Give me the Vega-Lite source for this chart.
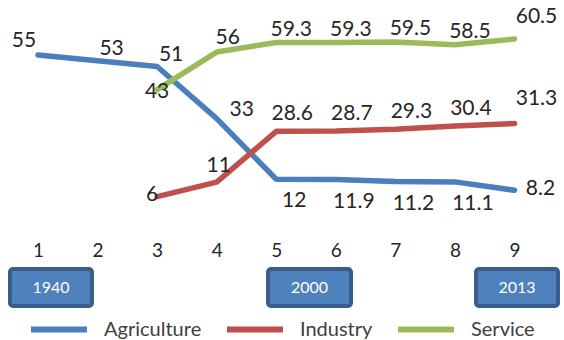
{
  "$schema": "https://vega.github.io/schema/vega-lite/v6.json",
  "padding": 0,
  "spacing": 7,
  "config": {
    "view": {"stroke": null},
    "font": "Lato",
    "text": {"font": "Lato", "fontSize": 21, "color": "#262626", "align": "center", "baseline": "middle"}
  },
  "datasets": {
    "shares": [
      {"x": 1, "sector": "Agriculture", "v": 55},
      {"x": 2, "sector": "Agriculture", "v": 53},
      {"x": 3, "sector": "Agriculture", "v": 51},
      {"x": 4, "sector": "Agriculture", "v": 33},
      {"x": 5, "sector": "Agriculture", "v": 12},
      {"x": 6, "sector": "Agriculture", "v": 11.9},
      {"x": 7, "sector": "Agriculture", "v": 11.2},
      {"x": 8, "sector": "Agriculture", "v": 11.1},
      {"x": 9, "sector": "Agriculture", "v": 8.2},
      {"x": 3, "sector": "Industry", "v": 6},
      {"x": 4, "sector": "Industry", "v": 11},
      {"x": 5, "sector": "Industry", "v": 28.6},
      {"x": 6, "sector": "Industry", "v": 28.7},
      {"x": 7, "sector": "Industry", "v": 29.3},
      {"x": 8, "sector": "Industry", "v": 30.4},
      {"x": 9, "sector": "Industry", "v": 31.3},
      {"x": 3, "sector": "Service", "v": 43},
      {"x": 4, "sector": "Service", "v": 56},
      {"x": 5, "sector": "Service", "v": 59.3},
      {"x": 6, "sector": "Service", "v": 59.3},
      {"x": 7, "sector": "Service", "v": 59.5},
      {"x": 8, "sector": "Service", "v": 58.5},
      {"x": 9, "sector": "Service", "v": 60.5}
    ],
    "years": [
      {"label": "1940", "x0": 0.53, "x1": 1.906, "xm": 1.218},
      {"label": "2000", "x0": 4.862, "x1": 6.255, "xm": 5.559},
      {"label": "2013", "x0": 8.354, "x1": 9.73, "xm": 9.042}
    ]
  },
  "vconcat": [
    {
      "width": 564,
      "height": 214,
      "data": {"name": "shares"},
      "encoding": {
        "x": {
          "field": "x", "type": "quantitative",
          "scale": {"domain": [0.362, 9.831], "nice": false, "zero": false},
          "axis": {"values": [1,2,3,4,5,6,7,8,9], "format": "d", "title": null, "domain": false, "ticks": false, "tickSize": 0, "grid": false, "labelFont": "Lato", "labelFontSize": 19, "labelColor": "#262626", "labelPadding": 27}
        },
        "y": {"field": "v", "type": "quantitative", "scale": {"domain": [0, 74], "nice": false, "zero": false}, "axis": null}
      },
      "layer": [
        {
          "mark": {"type": "line", "strokeWidth": 5.5, "strokeCap": "round", "strokeJoin": "round"},
          "encoding": {
            "color": {
              "field": "sector", "type": "nominal",
              "scale": {"domain": ["Agriculture", "Industry", "Service"], "range": ["#4a7ebd", "#c0504d", "#9bbb59"]},
              "legend": {"orient": "none", "legendX": 28, "legendY": 298.5, "direction": "horizontal", "title": null, "symbolType": "stroke", "symbolStrokeWidth": 6, "symbolSize": 3136, "labelFont": "Lato", "labelFontSize": 20, "labelColor": "#404040", "labelOffset": 14, "columnPadding": 13}
            }
          }
        },
        {"transform": [{"filter": "datum.sector === 'Agriculture' && datum.x === 1"}], "mark": {"type": "text", "dx": -14, "dy": -14}, "encoding": {"text": {"field": "v", "type": "nominal"}}},
        {"transform": [{"filter": "datum.sector === 'Agriculture' && (datum.x === 2 || datum.x === 3)"}], "mark": {"type": "text", "dx": 14, "dy": -12}, "encoding": {"text": {"field": "v", "type": "nominal"}}},
        {"transform": [{"filter": "datum.sector === 'Agriculture' && datum.x === 4"}], "mark": {"type": "text", "dx": 25, "dy": -9}, "encoding": {"text": {"field": "v", "type": "nominal"}}},
        {"transform": [{"filter": "datum.sector === 'Agriculture' && datum.x >= 5 && datum.x <= 8"}], "mark": {"type": "text", "dx": 18, "dy": 22}, "encoding": {"text": {"field": "v", "type": "nominal"}}},
        {"transform": [{"filter": "datum.sector === 'Agriculture' && datum.x === 9"}], "mark": {"type": "text", "dx": 26, "dy": -1}, "encoding": {"text": {"field": "v", "type": "nominal"}}},
        {"transform": [{"filter": "datum.sector === 'Industry' && datum.x === 3"}], "mark": {"type": "text", "dx": -5, "dy": -2}, "encoding": {"text": {"field": "v", "type": "nominal"}}},
        {"transform": [{"filter": "datum.sector === 'Industry' && datum.x === 4"}], "mark": {"type": "text", "dx": 2, "dy": -16}, "encoding": {"text": {"field": "v", "type": "nominal"}}},
        {"transform": [{"filter": "datum.sector === 'Industry' && datum.x >= 5 && datum.x <= 8"}], "mark": {"type": "text", "dx": 16, "dy": -17}, "encoding": {"text": {"field": "v", "type": "nominal"}}},
        {"transform": [{"filter": "datum.sector === 'Industry' && datum.x === 9"}], "mark": {"type": "text", "dx": 22, "dy": -24}, "encoding": {"text": {"field": "v", "type": "nominal"}}},
        {"transform": [{"filter": "datum.sector === 'Service' && datum.x === 3"}], "mark": {"type": "text", "dx": 0, "dy": 2}, "encoding": {"text": {"field": "v", "type": "nominal"}}},
        {"transform": [{"filter": "datum.sector === 'Service' && datum.x === 4"}], "mark": {"type": "text", "dx": 11, "dy": -14}, "encoding": {"text": {"field": "v", "type": "nominal"}}},
        {"transform": [{"filter": "datum.sector === 'Service' && datum.x >= 5 && datum.x <= 8"}], "mark": {"type": "text", "dx": 15, "dy": -13}, "encoding": {"text": {"field": "v", "type": "nominal"}}},
        {"transform": [{"filter": "datum.sector === 'Service' && datum.x === 9"}], "mark": {"type": "text", "dx": 22, "dy": -22}, "encoding": {"text": {"field": "v", "type": "nominal"}}}
      ]
    },
    {
      "width": 564,
      "height": 37,
      "data": {"name": "years"},
      "layer": [
        {
          "mark": {"type": "rect", "fill": "#4f81bd", "stroke": "#385d8a", "strokeWidth": 4, "cornerRadius": 3},
          "encoding": {
            "x": {"field": "x0", "type": "quantitative", "scale": {"domain": [0.362, 9.831], "nice": false, "zero": false}, "axis": null},
            "x2": {"field": "x1"}
          }
        },
        {
          "mark": {"type": "text", "fontSize": 16, "color": "#ffffff"},
          "encoding": {
            "x": {"field": "xm", "type": "quantitative", "scale": {"domain": [0.362, 9.831], "nice": false, "zero": false}, "axis": null},
            "text": {"field": "label", "type": "nominal"}
          }
        }
      ]
    }
  ]
}
